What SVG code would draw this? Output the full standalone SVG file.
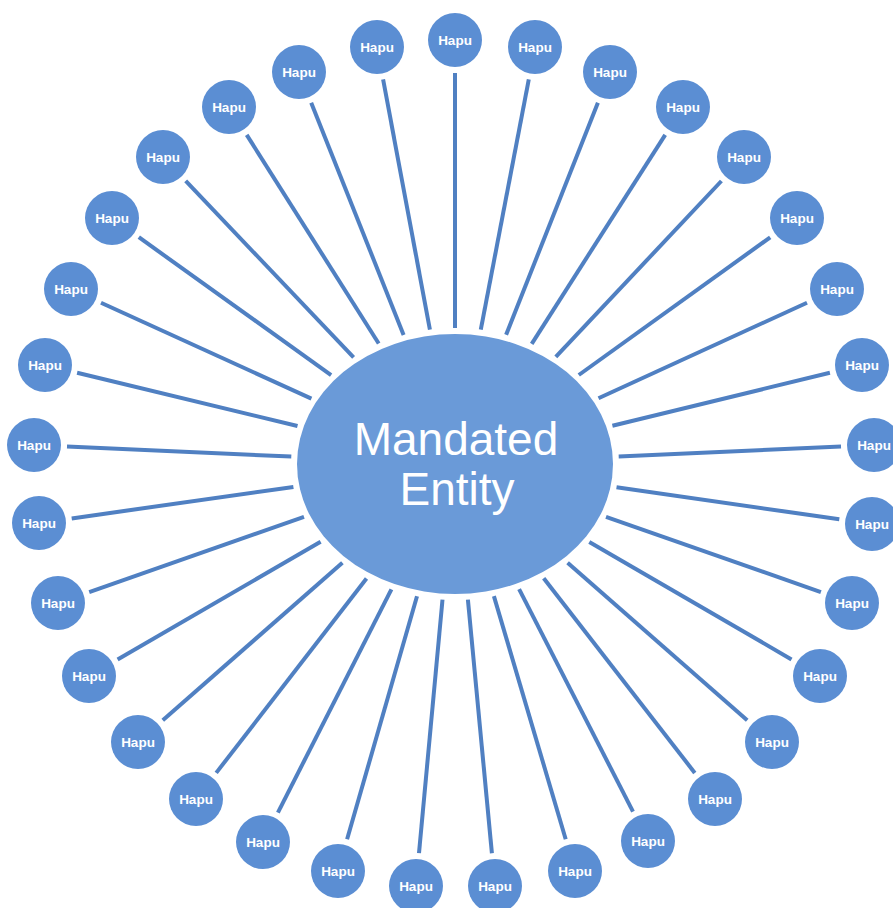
<svg xmlns="http://www.w3.org/2000/svg" width="893" height="908" viewBox="0 0 893 908">
<style>
.c{fill:#5B8ED3}
.t{font-family:"Liberation Sans",Arial,sans-serif;font-size:13.5px;font-weight:bold;fill:#fff;text-anchor:middle}
.m{font-family:"Liberation Sans",Arial,sans-serif;font-size:46px;fill:#fff;text-anchor:middle}
#connectors line{stroke:#5080C2;stroke-width:4}
</style>
<rect width="893" height="908" fill="#fff"/>
<g id="connectors">
<line x1="455" y1="73" x2="455" y2="328"/>
<line x1="528.8" y1="79.4" x2="480.8" y2="329.7"/>
<line x1="597.9" y1="102.7" x2="506.1" y2="334.8"/>
<line x1="665.2" y1="134.8" x2="531.7" y2="343.8"/>
<line x1="721.4" y1="181" x2="555.8" y2="356.9"/>
<line x1="770.2" y1="237.3" x2="578.8" y2="375"/>
<line x1="807" y1="302.7" x2="598.5" y2="398.3"/>
<line x1="829.9" y1="372.8" x2="612.4" y2="425.7"/>
<line x1="841" y1="446.5" x2="618.7" y2="456.6"/>
<line x1="839.3" y1="519.3" x2="616.5" y2="487.2"/>
<line x1="820.9" y1="592.1" x2="606" y2="516.9"/>
<line x1="791.5" y1="659.4" x2="589.3" y2="542"/>
<line x1="747.2" y1="720.2" x2="567.6" y2="562.8"/>
<line x1="694.8" y1="772.9" x2="543.7" y2="578.3"/>
<line x1="633" y1="811.6" x2="519.1" y2="589.2"/>
<line x1="565.7" y1="839.3" x2="493.9" y2="596.1"/>
<line x1="491.9" y1="853.2" x2="467.9" y2="599.6"/>
<line x1="419" y1="853.1" x2="442.5" y2="599.6"/>
<line x1="347.1" y1="839.3" x2="417" y2="596.2"/>
<line x1="277.9" y1="812.6" x2="391.4" y2="589.3"/>
<line x1="216.2" y1="772.9" x2="366.5" y2="578.5"/>
<line x1="162.8" y1="720.2" x2="342.4" y2="562.8"/>
<line x1="117.6" y1="659.5" x2="320.6" y2="541.8"/>
<line x1="89.2" y1="592.1" x2="304" y2="516.9"/>
<line x1="71.7" y1="518.4" x2="293.4" y2="486.9"/>
<line x1="67" y1="446.5" x2="291.3" y2="456.6"/>
<line x1="77.1" y1="372.7" x2="297.5" y2="426"/>
<line x1="101" y1="302.7" x2="311.4" y2="398.6"/>
<line x1="138.8" y1="237.2" x2="331.1" y2="375.1"/>
<line x1="185.7" y1="180.9" x2="353.6" y2="357.4"/>
<line x1="246.7" y1="134.9" x2="378.7" y2="343.5"/>
<line x1="311.2" y1="102.7" x2="403.6" y2="334.9"/>
<line x1="383.1" y1="79.4" x2="429.9" y2="329.6"/>
</g>
<g id="center">
<ellipse cx="455" cy="464" rx="158" ry="130" fill="#6A9AD8"/>
<text class="m" x="456" y="455">Mandated</text>
<text class="m" x="457" y="505">Entity</text>
</g>
<g id="h1"><circle class="c" cx="455" cy="40" r="27"/><text class="t" x="455" y="45">Hapu</text></g>
<g id="h2"><circle class="c" cx="535" cy="47" r="27"/><text class="t" x="535" y="52">Hapu</text></g>
<g id="h3"><circle class="c" cx="610" cy="72" r="27"/><text class="t" x="610" y="77">Hapu</text></g>
<g id="h4"><circle class="c" cx="683" cy="107" r="27"/><text class="t" x="683" y="112">Hapu</text></g>
<g id="h5"><circle class="c" cx="744" cy="157" r="27"/><text class="t" x="744" y="162">Hapu</text></g>
<g id="h6"><circle class="c" cx="797" cy="218" r="27"/><text class="t" x="797" y="223">Hapu</text></g>
<g id="h7"><circle class="c" cx="837" cy="289" r="27"/><text class="t" x="837" y="294">Hapu</text></g>
<g id="h8"><circle class="c" cx="862" cy="365" r="27"/><text class="t" x="862" y="370">Hapu</text></g>
<g id="h9"><circle class="c" cx="874" cy="445" r="27"/><text class="t" x="874" y="450">Hapu</text></g>
<g id="h10"><circle class="c" cx="872" cy="524" r="27"/><text class="t" x="872" y="529">Hapu</text></g>
<g id="h11"><circle class="c" cx="852" cy="603" r="27"/><text class="t" x="852" y="608">Hapu</text></g>
<g id="h12"><circle class="c" cx="820" cy="676" r="27"/><text class="t" x="820" y="681">Hapu</text></g>
<g id="h13"><circle class="c" cx="772" cy="742" r="27"/><text class="t" x="772" y="747">Hapu</text></g>
<g id="h14"><circle class="c" cx="715" cy="799" r="27"/><text class="t" x="715" y="804">Hapu</text></g>
<g id="h15"><circle class="c" cx="648" cy="841" r="27"/><text class="t" x="648" y="846">Hapu</text></g>
<g id="h16"><circle class="c" cx="575" cy="871" r="27"/><text class="t" x="575" y="876">Hapu</text></g>
<g id="h17"><circle class="c" cx="495" cy="886" r="27"/><text class="t" x="495" y="891">Hapu</text></g>
<g id="h18"><circle class="c" cx="416" cy="886" r="27"/><text class="t" x="416" y="891">Hapu</text></g>
<g id="h19"><circle class="c" cx="338" cy="871" r="27"/><text class="t" x="338" y="876">Hapu</text></g>
<g id="h20"><circle class="c" cx="263" cy="842" r="27"/><text class="t" x="263" y="847">Hapu</text></g>
<g id="h21"><circle class="c" cx="196" cy="799" r="27"/><text class="t" x="196" y="804">Hapu</text></g>
<g id="h22"><circle class="c" cx="138" cy="742" r="27"/><text class="t" x="138" y="747">Hapu</text></g>
<g id="h23"><circle class="c" cx="89" cy="676" r="27"/><text class="t" x="89" y="681">Hapu</text></g>
<g id="h24"><circle class="c" cx="58" cy="603" r="27"/><text class="t" x="58" y="608">Hapu</text></g>
<g id="h25"><circle class="c" cx="39" cy="523" r="27"/><text class="t" x="39" y="528">Hapu</text></g>
<g id="h26"><circle class="c" cx="34" cy="445" r="27"/><text class="t" x="34" y="450">Hapu</text></g>
<g id="h27"><circle class="c" cx="45" cy="365" r="27"/><text class="t" x="45" y="370">Hapu</text></g>
<g id="h28"><circle class="c" cx="71" cy="289" r="27"/><text class="t" x="71" y="294">Hapu</text></g>
<g id="h29"><circle class="c" cx="112" cy="218" r="27"/><text class="t" x="112" y="223">Hapu</text></g>
<g id="h30"><circle class="c" cx="163" cy="157" r="27"/><text class="t" x="163" y="162">Hapu</text></g>
<g id="h31"><circle class="c" cx="229" cy="107" r="27"/><text class="t" x="229" y="112">Hapu</text></g>
<g id="h32"><circle class="c" cx="299" cy="72" r="27"/><text class="t" x="299" y="77">Hapu</text></g>
<g id="h33"><circle class="c" cx="377" cy="47" r="27"/><text class="t" x="377" y="52">Hapu</text></g>
</svg>
